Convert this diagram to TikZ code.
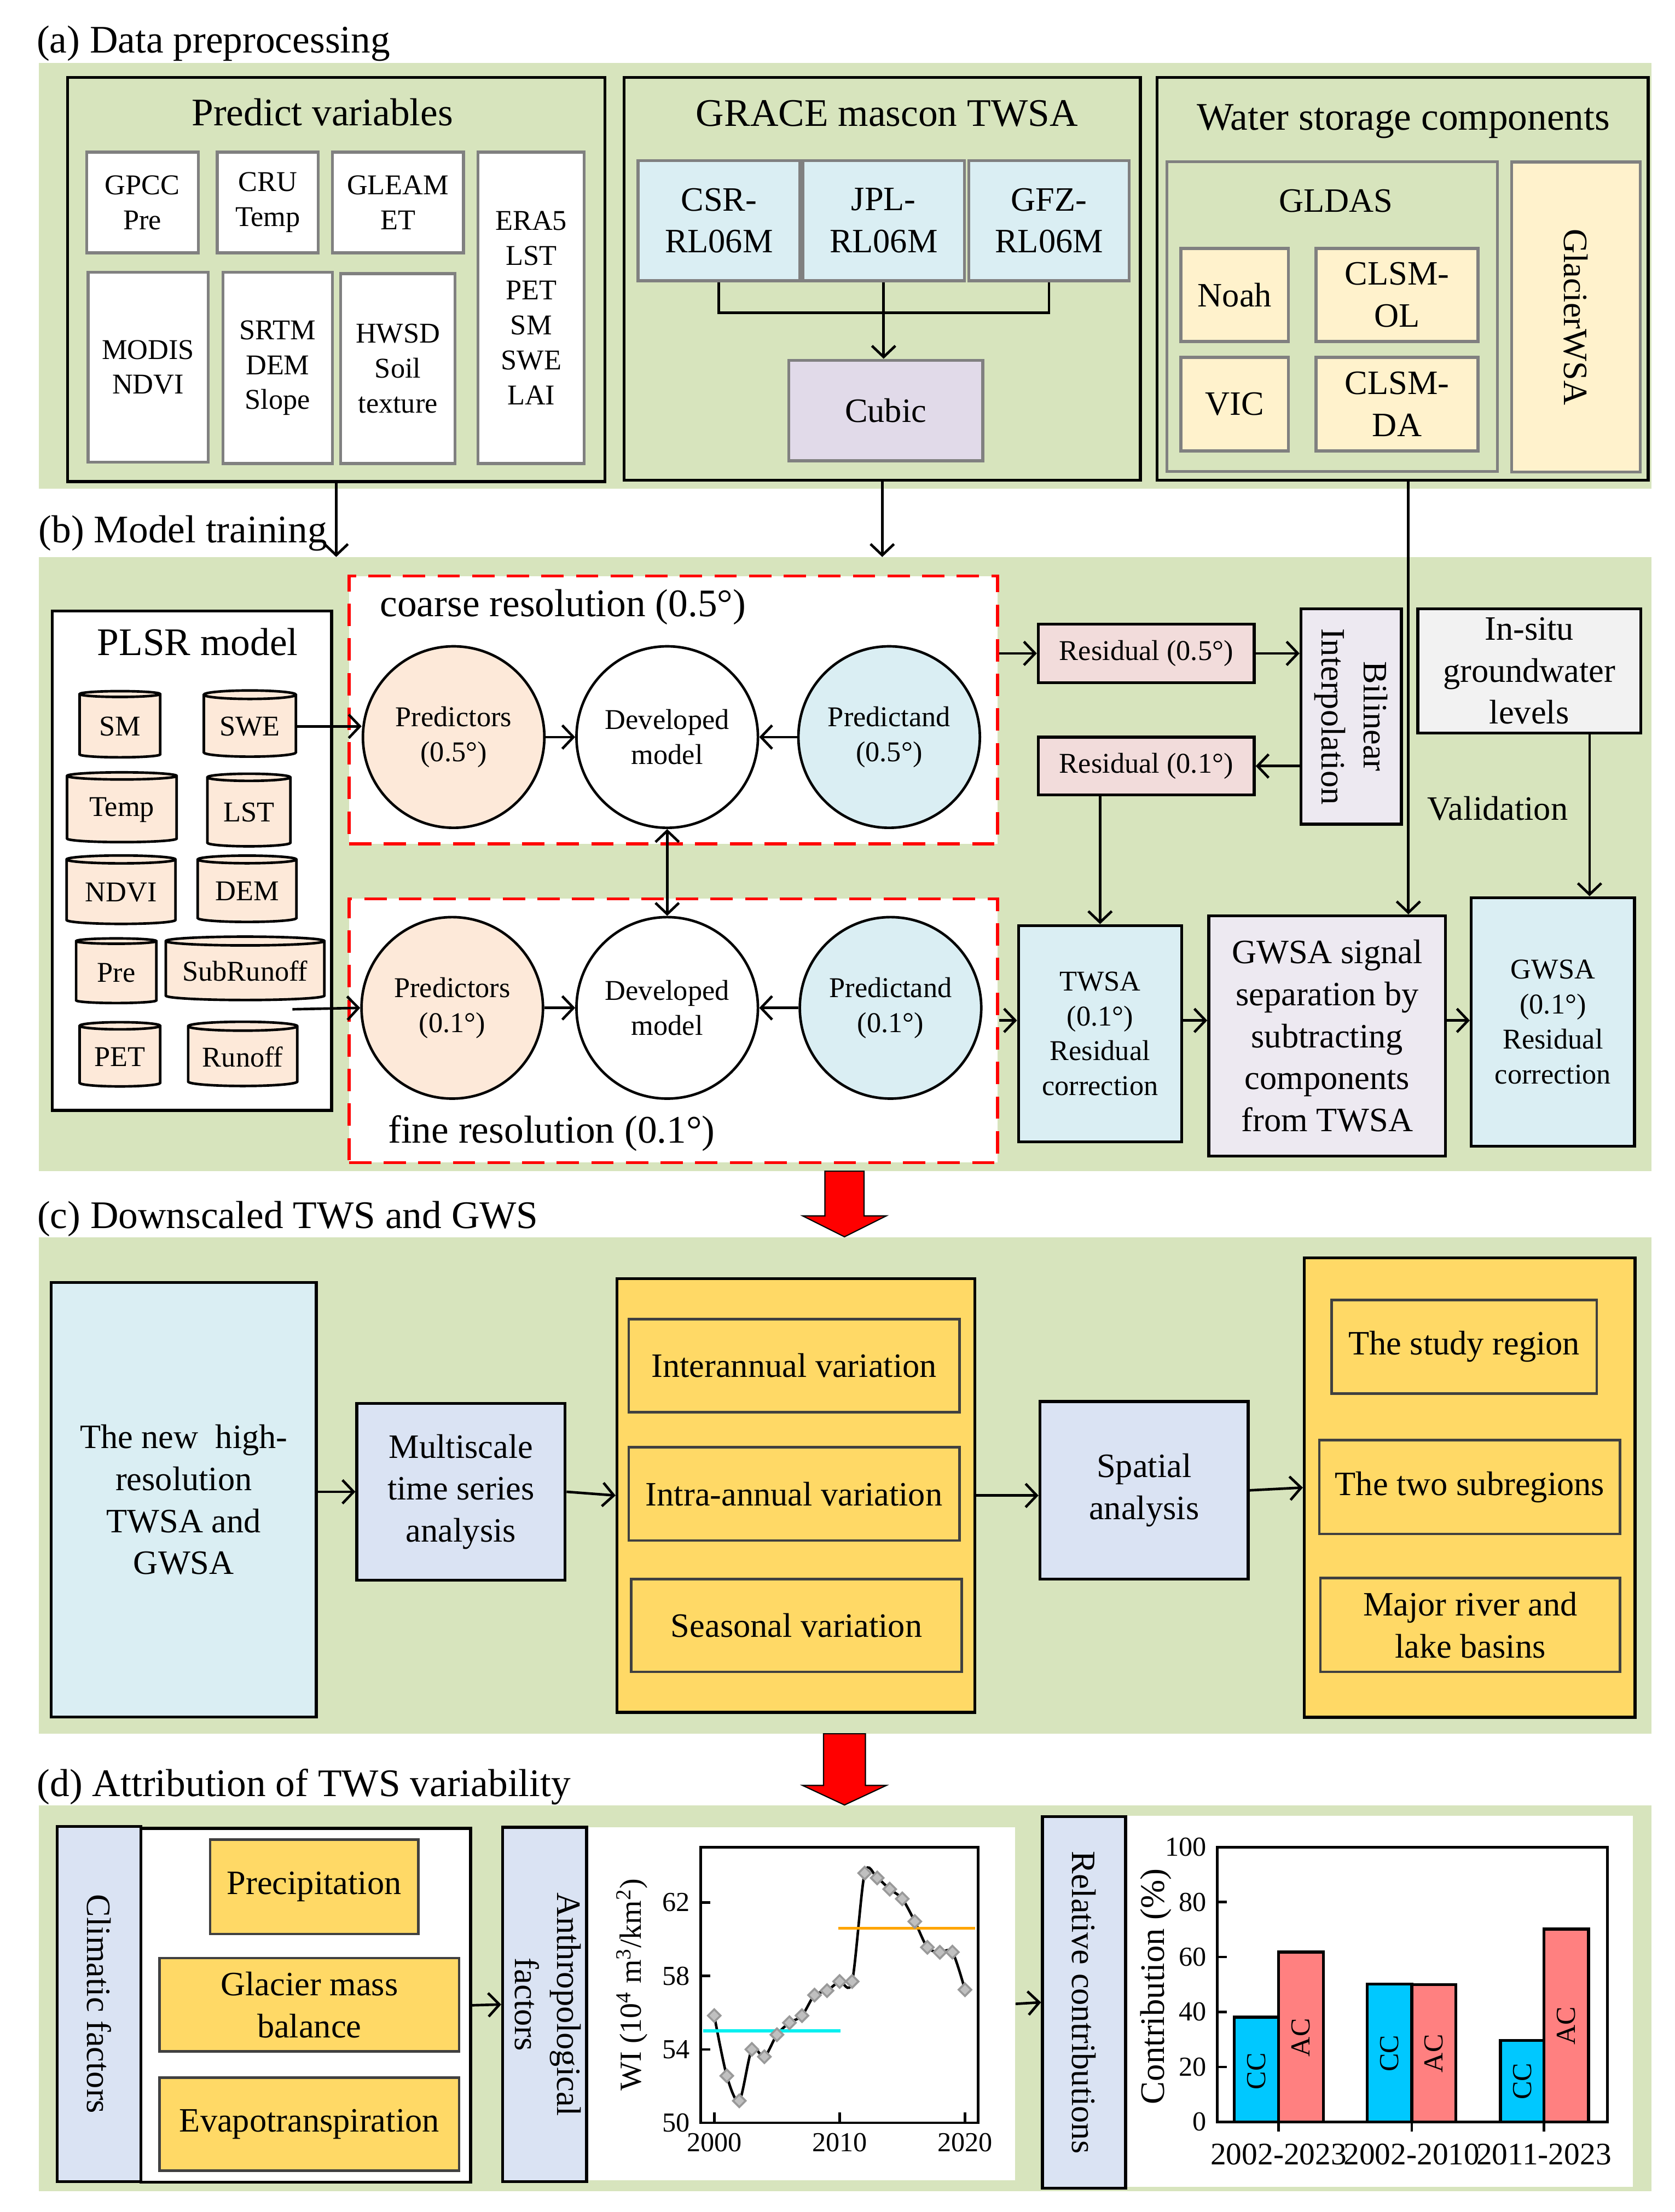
\documentclass[tikz,border=0pt]{standalone}
\usepackage{fontspec}
\usepackage{graphicx}
\setmainfont{Liberation Serif}
\usetikzlibrary{arrows.meta,shapes.geometric}
\definecolor{bgGreen}{HTML}{D7E4BD}
\definecolor{boxGray}{HTML}{808080}
\definecolor{dkGray}{HTML}{404040}
\definecolor{lBlue}{HTML}{DAEEF3}
\definecolor{lPurple}{HTML}{E1DAE9}
\definecolor{peach}{HTML}{FDE9D9}
\definecolor{cream}{HTML}{FFF2CC}
\definecolor{resPink}{HTML}{F2DCDB}
\definecolor{lilac}{HTML}{EDE9F1}
\definecolor{lGray}{HTML}{F2F2F2}
\definecolor{steel}{HTML}{DAE3F3}
\definecolor{cGold}{HTML}{FFD966}
\definecolor{ccBlue}{HTML}{00C8FF}
\definecolor{acRed}{HTML}{FF8080}
\definecolor{meanOr}{HTML}{FFA500}
\definecolor{meanCy}{HTML}{00F0F0}
\definecolor{arRed}{HTML}{FF0000}
\definecolor{mkFill}{HTML}{C0C0C0}
\definecolor{mkLine}{HTML}{999999}
\tikzset{
  wd/.style={minimum width=#1*0.25mm},
  ht/.style={minimum height=#1*0.25mm},
  big/.style={font=\fontsize{19.9}{24}\selectfont},
  mid/.style={font=\fontsize{17.4}{21.4}\selectfont},
  sml/.style={font=\fontsize{14.6}{17.8}\selectfont},
  tk/.style={font=\fontsize{14}{16}\selectfont, inner sep=0pt},
  ttl/.style={big, anchor=west, inner sep=0pt},
  blk/.style={draw=black, line width=1.5pt, anchor=north west, inner sep=0pt, align=center},
  gry/.style={draw=boxGray, line width=1.5pt, anchor=north west, inner sep=0pt, align=center},
  sub/.style={gry, fill=white, sml},
  drk/.style={draw=dkGray, line width=1.3pt, anchor=north west, inner sep=0pt, align=center, fill=cGold, mid},
  cyl/.style={cylinder, shape border rotate=90, aspect=0.14, draw, line width=1.3pt, fill=peach, sml, inner sep=0pt},
  circ/.style={circle, draw, line width=1.3pt, minimum size=32.5mm, inner sep=0pt, align=center, sml},
  dsh/.style={draw=arRed, dash pattern=on 4mm off 2.2mm, line width=1.5pt, fill=white, anchor=north west, inner sep=0pt},
  arr/.style={->, line width=1.3pt},
  dia/.style={diamond, draw=mkLine, fill=mkFill, line width=1pt, minimum size=2.4mm, inner sep=0pt}
}
\begin{document}
\begin{tikzpicture}[x=0.25mm, y=-0.25mm, >={Straight Barb[length=2mm,width=4.2mm]}]
\useasboundingbox (0,0) rectangle (1200,1584.6);
\fill[bgGreen] (28,45) rectangle (1183,350);
\fill[bgGreen] (28,399) rectangle (1183,839);
\fill[bgGreen] (28,886.3) rectangle (1183,1242);
\fill[bgGreen] (28,1293.3) rectangle (1183,1569.5);
\filldraw[fill=arRed, draw=black, line width=0.6pt] (591,839) -- (619,839) -- (619,871) -- (635,871) -- (605,886) -- (575,871) -- (591,871) -- cycle;
\filldraw[fill=arRed, draw=black, line width=0.6pt] (590,1242) -- (620,1242) -- (620,1279) -- (635,1279) -- (605,1293) -- (575,1279) -- (590,1279) -- cycle;

\node[ttl] (ta) at (26,31) {(a) Data preprocessing};
\node[ttl] (tb) at (27.5,382) {(b) Model training};
\node[ttl] (tc) at (26.4,873) {(c) Downscaled TWS and GWS};
\node[ttl] (td) at (26.3,1280) {(d) Attribution of TWS variability};

\node[blk, wd=385, ht=289.5] (PV) at (47.3,54.5) {};
\node[big] (PVt) at (231,80.4) {Predict variables};
\node[sub, wd=80, ht=72] (GPCC) at (61,108) {GPCC\\Pre};
\node[sub, wd=72.4, ht=72] (CRU) at (154.6,108) {CRU\\Temp};
\node[sub, wd=94, ht=72] (GLEAM) at (237,108) {GLEAM\\ET};
\node[sub, wd=76, ht=223] (ERA) at (341.5,108) {ERA5\\LST\\PET\\SM\\SWE\\LAI};
\node[sub, wd=86, ht=136] (MODIS) at (62,194) {MODIS\\NDVI};
\node[sub, wd=78.3, ht=137] (SRTM) at (158.7,194) {SRTM\\DEM\\Slope};
\node[sub, wd=82, ht=136] (HWSD) at (243,195) {HWSD\\Soil\\texture};

\node[blk, wd=370, ht=288.5] (GR) at (446,54.5) {};
\node[big] (GRt) at (635.4,81.5) {GRACE mascon TWSA};
\node[gry, fill=lBlue, mid, wd=116, ht=86] (CSR) at (456,114) {CSR-\\RL06M};
\node[gry, fill=lBlue, mid, wd=116, ht=86] (JPL) at (574,114) {JPL-\\RL06M};
\node[gry, fill=lBlue, mid, wd=115, ht=86] (GFZ) at (693,114) {GFZ-\\RL06M};
\node[gry, fill=lPurple, mid, wd=139, ht=72] (Cubic) at (564,257) {Cubic};
\coordinate (jn) at (632,224);
\draw[line width=1.3pt] (CSR.south) |- (jn) -| (GFZ.south);
\draw[arr] (JPL.south) -- (JPL.south |- Cubic.north);

\node[blk, wd=352, ht=288.5] (WS) at (827.8,54.5) {};
\node[big] (WSt) at (1005.4,87) {Water storage components};
\node[gry, fill=bgGreen, wd=236.7, ht=222] (GLD) at (835,114.8) {};
\node[mid] (GLDt) at (957,144) {GLDAS};
\node[gry, fill=cream, mid, wd=77, ht=66.5] (Noah) at (845,177) {Noah};
\node[gry, fill=cream, mid, wd=116, ht=66.5] (OL) at (941.8,177) {CLSM-\\OL};
\node[gry, fill=cream, mid, wd=77, ht=67] (VIC) at (845,255) {VIC};
\node[gry, fill=cream, mid, wd=116, ht=67] (DA) at (941.8,255) {CLSM-\\DA};
\node[gry, fill=cream, mid, wd=92, ht=222] (GWS) at (1082,115) {\rotatebox{-90}{GlacierWSA}};

\coordinate (bTop) at (0,399);
\draw[arr] (PV.south) -- (PV.south |- bTop);
\draw[arr] (GR.south) -- (GR.south |- bTop);

\node[blk, fill=white, wd=200.2, ht=357.8] (PLSR) at (36.3,436.6) {};
\node[big] (PLSRt) at (141.6,460) {PLSR model};
\node[cyl, wd=57.7, ht=47.4] (SM) at (85.9,520.3) {SM};
\node[cyl, wd=66, ht=47.4] (SWE) at (179,520.3) {SWE};
\node[cyl, wd=78.5, ht=50, aspect=0.11] (Temp) at (87.3,580) {Temp};
\node[cyl, wd=59.5, ht=52] (LST) at (178.3,582) {LST};
\node[cyl, wd=78, ht=49, aspect=0.11] (NDVI) at (86.7,639.2) {NDVI};
\node[cyl, wd=70.7, ht=47.5, aspect=0.12] (DEM) at (177,638.5) {DEM};
\node[cyl, wd=57.5, ht=46.3] (Pre) at (83.3,696.8) {Pre};
\node[cyl, wd=113.6, ht=45.4, aspect=0.07] (SubR) at (175.6,695.7) {SubRunoff};
\node[cyl, wd=57.7, ht=46] (PET) at (85.9,757) {PET};
\node[cyl, wd=78.2, ht=46, aspect=0.11] (Runoff) at (173.9,757) {Runoff};

\node[dsh, wd=464.6, ht=191.8] (coarse) at (249,411.6) {};
\node[big, anchor=west, inner sep=0pt] (coarset) at (272,435) {coarse resolution (0.5°)};
\node[dsh, wd=464.6, ht=189] (fine) at (249,642.8) {};
\node[big, anchor=west, inner sep=0pt] (finet) at (277.8,812) {fine resolution (0.1°)};

\node[circ, fill=peach] (Pr5) at (325,528) {Predictors\\(0.5°)};
\node[circ, fill=white] (Dv5) at (478,528) {Developed\\model};
\node[circ, fill=lBlue] (Pd5) at (637,528) {Predictand\\(0.5°)};
\node[circ, fill=peach] (Pr1) at (324,722) {Predictors\\(0.1°)};
\node[circ, fill=white] (Dv1) at (478,722) {Developed\\model};
\node[circ, fill=lBlue] (Pd1) at (638,722) {Predictand\\(0.1°)};

\node[blk, fill=resPink, sml, wd=154.7, ht=42] (R5) at (742.8,446) {Residual (0.5°)};
\node[blk, fill=resPink, sml, wd=154.7, ht=41.4] (R1) at (742.8,527) {Residual (0.1°)};
\node[blk, fill=lilac, mid, wd=72, ht=154.4] (BI) at (931,435) {\rotatebox{-90}{\begin{tabular}{@{}c@{}}Bilinear\\Interpolation\end{tabular}}};
\node[blk, fill=lGray, mid, wd=159.7, ht=89] (IS) at (1014.7,435) {In-situ\\groundwater\\levels};
\node[mid] (val) at (1073,579) {Validation};
\node[blk, fill=lBlue, sml, wd=116.9, ht=154.9] (TW) at (728.6,662) {TWSA\\(0.1°)\\Residual\\correction};
\node[blk, fill=lilac, mid, wd=169.7, ht=172] (SIG) at (864.9,655) {GWSA signal\\separation by\\subtracting\\components\\from TWSA};
\node[blk, fill=lBlue, sml, wd=117, ht=178] (GW) at (1053,642) {GWSA\\(0.1°)\\Residual\\correction};

\coordinate (po) at (209.5,723);
\coordinate (wsx) at (1009,0);
\coordinate (vx) at (1138.8,0);
\coordinate (tw) at (0,731);
\draw[arr] (SWE.east) -- (SWE.east -| Pr5.west);
\draw[arr] (po) -- (Pr1.west);
\draw[arr] (Pr5) -- (Dv5);
\draw[arr] (Pd5) -- (Dv5);
\draw[arr] (Pr1) -- (Dv1);
\draw[arr] (Pd1) -- (Dv1);
\draw[<->, line width=1.3pt] (Dv5) -- (Dv1);
\draw[arr] (R5.west -| coarse.east) -- (R5.west);
\draw[arr] (R5.east) -- (R5.east -| BI.west);
\draw[arr] (R1.east -| BI.west) -- (R1.east);
\draw[arr] (R1.south -| TW.north) -- (TW.north);
\draw[arr] (IS.south -| vx) -- (GW.north -| vx);
\draw[arr] (WS.south -| wsx) -- (SIG.north -| wsx);
\draw[arr] (fine.east |- tw) -- (TW.west |- tw);
\draw[arr] (TW.east |- tw) -- (SIG.west |- tw);
\draw[arr] (SIG.east |- tw) -- (GW.west |- tw);

\node[blk, fill=lBlue, mid, wd=189.8, ht=311.4] (NEW) at (35.7,917.6) {The new\ \ high-\\resolution\\TWSA and\\GWSA};
\node[blk, fill=steel, mid, wd=149.2, ht=126.8] (MS) at (254.6,1004.2) {Multiscale\\time series\\analysis};
\node[blk, fill=cGold, wd=256.3, ht=310.7] (VAR) at (441,914.9) {};
\node[drk, wd=236.9, ht=66.6] (IA) at (449.5,944) {Interannual variation};
\node[drk, wd=236.9, ht=66.8] (IN) at (449.5,1035.9) {Intra-annual variation};
\node[drk, wd=236.6, ht=66.5] (SE) at (451.4,1130.2) {Seasonal variation};
\node[blk, fill=steel, mid, wd=149.2, ht=127.3] (SP) at (744,1002.9) {Spatial\\analysis};
\node[blk, fill=cGold, wd=236.9, ht=329.2] (REG) at (933.4,900) {};
\node[drk, wd=190, ht=67.1] (SR) at (953,930.3) {The study region};
\node[drk, wd=215.5, ht=67.4] (TS) at (944.3,1030.6) {The two subregions};
\node[drk, wd=214.8, ht=67.1] (MR) at (945,1129.6) {Major river and\\lake basins};
\draw[arr] (MS.west -| NEW.east) -- (MS.west);
\draw[arr] (MS.east) -- (VAR.west);
\draw[arr] (VAR.east) -- (VAR.east -| SP.west);
\draw[arr] (SP.east) -- (REG.west);

\node[blk, fill=white, wd=236.3, ht=253.5] (CF) at (99.8,1308.7) {};
\node[blk, fill=steel, mid, wd=59.8, ht=254.3] (CL) at (40,1307.4) {\rotatebox{-90}{Climatic factors}};
\node[drk, wd=149.1, ht=67.5] (PR) at (149.6,1317) {Precipitation};
\node[drk, wd=214.6, ht=66.9] (GM) at (113.4,1401.8) {Glacier mass\\balance};
\node[drk, wd=214.6, ht=66.6] (EV) at (113.4,1487.4) {Evapotranspiration};
\node[fill=white, anchor=north west, inner sep=0pt, wd=308.5, ht=253] (P1) at (418.5,1308.7) {};
\node[blk, fill=steel, mid, wd=59.4, ht=253.7] (AN) at (359.1,1308) {\rotatebox{-90}{\begin{tabular}{@{}c@{}}Anthropological\\factors\end{tabular}}};
\node[fill=white, anchor=north west, inner sep=0pt, wd=364.3, ht=266.1] (P2) at (805.4,1300.3) {};
\node[blk, fill=steel, mid, wd=59.6, ht=266.1] (RC) at (745.8,1300.3) {\rotatebox{-90}{Relative contributions}};
\draw[arr] (CF.east) -- (AN.west);
\draw[arr] (P1.east) -- (RC.west);

\begin{scope}[shift={(511.7,1520.7)}, x=2.245mm, y=3.2875mm]
\draw[line width=1.3pt] (-1.08,0) rectangle (21.05,15.02);
\foreach \v in {0,4,8,12} {
  \pgfmathtruncatemacro{\lb}{50+\v}
  \draw[line width=1.3pt] (-1.08,\v) -- (-0.3,\v);
  \node[tk, anchor=east] (yl\v) at (-1.93,\v) {\lb};
}
\foreach \t in {0,10,20} {
  \pgfmathtruncatemacro{\lb}{2000+\t}
  \draw[line width=1.3pt] (\t,0) -- (\t,0.56);
  \node[tk, anchor=north] (xl\t) at (\t,-0.56) {\lb};
}
\draw[line width=1.3pt] plot[smooth, tension=0.5] coordinates {(0,5.84) (1,2.56) (2,1.2) (3,4.0) (4,3.6) (5,4.8) (6,5.45) (7,5.84) (8,6.96) (9,7.2) (10,7.7) (11,7.7) (12,13.6) (13,13.34) (14,12.73) (15,12.2) (16,10.97) (17,9.56) (18,9.29) (19,9.3) (20,7.25)};
\draw[meanCy, line width=1.6pt] (-0.875,5.01) -- (10.07,5.01);
\draw[meanOr, line width=1.6pt] (9.9,10.6) -- (20.8,10.6);
\foreach \x/\y in {0/5.84, 1/2.56, 2/1.2, 3/4.0, 4/3.6, 5/4.8, 6/5.45, 7/5.84, 8/6.96, 9/7.2, 10/7.7, 11/7.7, 12/13.6, 13/13.34, 14/12.73, 15/12.2, 16/10.97, 17/9.56, 18/9.29, 19/9.3, 20/7.25}
  \node[dia] (m\x) at (\x,\y) {};
\node[rotate=90, font=\fontsize{15.6}{18}\selectfont] (wiT) at (-6.56,7.53) {WI (10\textsuperscript{4} m\textsuperscript{3}/km\textsuperscript{2})};
\end{scope}

\begin{scope}[shift={(872,1520)}, x=0.25mm, y=0.492mm]
\foreach \a/\b/\v/\c in {12.2/44/38.1/ccBlue, 44/76/61.8/acRed, 107.6/139.4/50.1/ccBlue, 139.4/171.1/49.9/acRed, 203/234.1/29.6/ccBlue, 234.1/266/70.2/acRed}
  \filldraw[fill=\c, draw=black, line width=1.5pt] (\a,0) rectangle (\b,\v);
\draw[line width=1.3pt] (0,0) rectangle (279.5,100);
\foreach \v in {0,20,40,60,80,100} {
  \draw[line width=1.3pt] (0,\v) -- (7,\v);
  \node[tk, anchor=east] (cl\v) at (-7.5,\v) {\v};
}
\foreach \x/\l in {44/2002-2023, 139.4/2002-2010, 234.1/2011-2023} {
  \draw[line width=1.3pt] (\x,0) -- (\x,-3.6);
  \node[anchor=north, inner sep=0pt, font=\fontsize{16}{18}\selectfont] at (\x,-7.8) {\l};
}
\node[tk, rotate=90] (cc1) at (28.1,18.4) {CC};
\node[tk, rotate=90] (ac1) at (60,30.7) {AC};
\node[tk, rotate=90] (cc2) at (123.5,24.9) {CC};
\node[tk, rotate=90] (ac2) at (155.3,24.9) {AC};
\node[tk, rotate=90] (cc3) at (218.5,14.7) {CC};
\node[tk, rotate=90] (ac3) at (250,35) {AC};
\node[rotate=90, font=\fontsize{17.5}{20}\selectfont] (ctT) at (-43.8,49.3) {Contribution (\%)};
\end{scope}
\end{tikzpicture}
\end{document}
